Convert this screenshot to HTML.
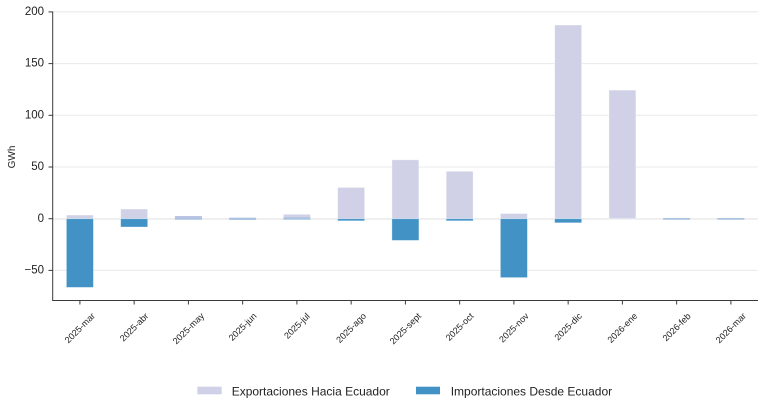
<!DOCTYPE html>
<html><head><meta charset="utf-8"><style>
html,body{margin:0;padding:0;background:#fff;}
svg{display:block;font-family:"Liberation Sans",Arial,sans-serif;}
</style></head><body>
<svg width="765" height="409" viewBox="0 0 765 409" xmlns="http://www.w3.org/2000/svg">
<rect width="765" height="409" fill="#fff"/>
<g stroke="#e8e8e8" stroke-width="1">
<line x1="53" y1="11.9" x2="758" y2="11.9"/>
<line x1="53" y1="63.6" x2="758" y2="63.6"/>
<line x1="53" y1="115.3" x2="758" y2="115.3"/>
<line x1="53" y1="167" x2="758" y2="167"/>
<line x1="53" y1="270.4" x2="758" y2="270.4"/>
</g>
<line x1="53" y1="218.9" x2="758" y2="218.9" stroke="#ececec" stroke-width="1.6"/>
<g fill="#d0d1e6" stroke="#ffffff" stroke-opacity="0.5" stroke-width="0.8">
<rect x="66.4" y="215.0" width="27" height="3.7"/>
<rect x="120.65" y="209.0" width="27" height="9.7"/>
<rect x="283.4" y="214.3" width="27" height="4.4"/>
<rect x="337.65" y="187.4" width="27" height="31.3"/>
<rect x="391.9" y="159.8" width="27" height="58.9"/>
<rect x="446.15" y="171.3" width="27" height="47.4"/>
<rect x="500.4" y="213.5" width="27" height="5.2"/>
<rect x="554.65" y="25.0" width="27" height="193.7"/>
<rect x="608.9" y="90.1" width="27" height="128.6"/>
</g>
<rect x="174.9" y="216.0" width="27" height="2.7" fill="#bdc3e2"/>
<g fill="#4292c6" stroke="#ffffff" stroke-opacity="0.4" stroke-width="0.8">
<rect x="66.4" y="218.7" width="27" height="68.7"/>
<rect x="120.65" y="218.7" width="27" height="8.3"/>
<rect x="337.65" y="218.7" width="27" height="2.1"/>
<rect x="391.9" y="218.7" width="27" height="21.7"/>
<rect x="446.15" y="218.7" width="27" height="2.1"/>
<rect x="500.4" y="218.7" width="27" height="58.9"/>
<rect x="554.65" y="218.7" width="27" height="4.1"/>
</g>
<g fill="#a9c2e2">
<rect x="174.9" y="218.2" width="27" height="1.5"/>
<rect x="229.15" y="217.7" width="27" height="2.2"/>
<rect x="283.4" y="217.4" width="27" height="2.3"/>
<rect x="663.15" y="218.0" width="27" height="1.7"/>
<rect x="717.4" y="218.0" width="27" height="1.7"/>
</g>
<g stroke="#3a3a3a" stroke-width="1" fill="none">
<line x1="52.7" y1="11.5" x2="52.7" y2="300.5"/>
<line x1="52.2" y1="300.5" x2="758" y2="300.5"/>
<line x1="48.5" y1="11.9" x2="52.7" y2="11.9"/>
<line x1="48.5" y1="63.6" x2="52.7" y2="63.6"/>
<line x1="48.5" y1="115.3" x2="52.7" y2="115.3"/>
<line x1="48.5" y1="167" x2="52.7" y2="167"/>
<line x1="48.5" y1="218.7" x2="52.7" y2="218.7"/>
<line x1="48.5" y1="270.4" x2="52.7" y2="270.4"/>
<line x1="79.9" y1="300.5" x2="79.9" y2="304.5"/>
<line x1="134.15" y1="300.5" x2="134.15" y2="304.5"/>
<line x1="188.4" y1="300.5" x2="188.4" y2="304.5"/>
<line x1="242.65" y1="300.5" x2="242.65" y2="304.5"/>
<line x1="296.9" y1="300.5" x2="296.9" y2="304.5"/>
<line x1="351.15" y1="300.5" x2="351.15" y2="304.5"/>
<line x1="405.4" y1="300.5" x2="405.4" y2="304.5"/>
<line x1="459.65" y1="300.5" x2="459.65" y2="304.5"/>
<line x1="513.9" y1="300.5" x2="513.9" y2="304.5"/>
<line x1="568.15" y1="300.5" x2="568.15" y2="304.5"/>
<line x1="622.4" y1="300.5" x2="622.4" y2="304.5"/>
<line x1="676.65" y1="300.5" x2="676.65" y2="304.5"/>
<line x1="730.9" y1="300.5" x2="730.9" y2="304.5"/>
</g>
<g font-size="11.5" fill="#222" text-anchor="end" dominant-baseline="central">
<text x="44" y="12">200</text>
<text x="44" y="63.7">150</text>
<text x="44" y="115.4">100</text>
<text x="44" y="167.1">50</text>
<text x="44" y="218.8">0</text>
<text x="44" y="270.5">−50</text>
</g>
<text transform="translate(12.5,157) rotate(-90)" font-size="10" fill="#222" text-anchor="middle" dominant-baseline="central">GWh</text>
<g font-size="9" fill="#222" text-anchor="middle" dominant-baseline="central">
<text transform="translate(79.9,328.0) rotate(-45)">2025-mar</text>
<text transform="translate(134.15,327.2) rotate(-45)">2025-abr</text>
<text transform="translate(188.4,328.5) rotate(-45)">2025-may</text>
<text transform="translate(242.65,326.9) rotate(-45)">2025-jun</text>
<text transform="translate(296.9,325.9) rotate(-45)">2025-jul</text>
<text transform="translate(351.15,327.9) rotate(-45)">2025-ago</text>
<text transform="translate(405.4,328.6) rotate(-45)">2025-sept</text>
<text transform="translate(459.65,326.9) rotate(-45)">2025-oct</text>
<text transform="translate(513.9,327.7) rotate(-45)">2025-nov</text>
<text transform="translate(568.15,326.7) rotate(-45)">2025-dic</text>
<text transform="translate(622.4,327.9) rotate(-45)">2026-ene</text>
<text transform="translate(676.65,327.1) rotate(-45)">2026-feb</text>
<text transform="translate(730.9,328.0) rotate(-45)">2026-mar</text>
</g>
<rect x="197.3" y="386.7" width="24.4" height="7.6" fill="#d0d1e6"/>
<text x="231.7" y="395.3" font-size="12" fill="#222">Exportaciones Hacia Ecuador</text>
<rect x="416" y="386.7" width="24" height="7.6" fill="#4292c6"/>
<text x="450.7" y="395.3" font-size="12" fill="#222">Importaciones Desde Ecuador</text>
</svg>
</body></html>
